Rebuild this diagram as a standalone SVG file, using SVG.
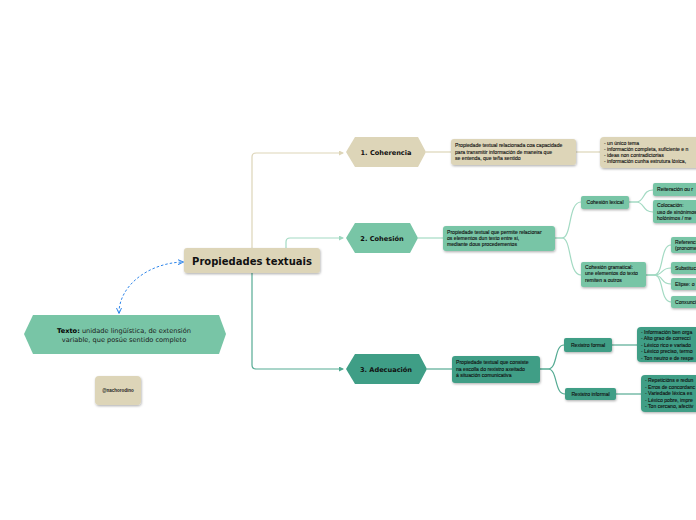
<svg xmlns="http://www.w3.org/2000/svg" width="696" height="520" viewBox="0 0 696 520">
<defs>
<filter id="sh" x="-20%" y="-30%" width="140%" height="170%"><feDropShadow dx="0.6" dy="1.2" stdDeviation="1" flood-color="#000" flood-opacity="0.3"/></filter>
<marker id="aB" markerWidth="5" markerHeight="5" refX="4" refY="2.5" orient="auto" markerUnits="userSpaceOnUse"><path d="M0,0 L5,2.5 L0,5 Z" fill="#ddd5b8"/></marker>
<marker id="aG" markerWidth="5" markerHeight="5" refX="4" refY="2.5" orient="auto" markerUnits="userSpaceOnUse"><path d="M0,0 L5,2.5 L0,5 Z" fill="#9fd8c0"/></marker>
<marker id="aT" markerWidth="5" markerHeight="5" refX="4" refY="2.5" orient="auto" markerUnits="userSpaceOnUse"><path d="M0,0 L5,2.5 L0,5 Z" fill="#4fa88f"/></marker>
<marker id="aD" markerWidth="6" markerHeight="6" refX="5" refY="3" orient="auto-start-reverse" markerUnits="userSpaceOnUse"><path d="M0,0.5 L5.5,3 L0,5.5" fill="none" stroke="#2f86ea" stroke-width="1"/></marker>
</defs>
<style>
.beige{fill:#ddd5b8}
.green{fill:#78c5a6}
.teal{fill:#3f9e86}
.lb{fill:none;stroke:#ddd5b8;stroke-width:1.2}
.lg{fill:none;stroke:#a3dac3;stroke-width:1.2}
.lt{fill:none;stroke:#55ab93;stroke-width:1.2}
.hex{font-family:"DejaVu Sans",sans-serif;font-weight:bold;font-size:6.6px;fill:#111;text-anchor:middle}
.sm{font-family:"Liberation Sans",Arial,sans-serif;font-size:5.1px;fill:#111;stroke:#111;stroke-width:0.12}
.smc{font-family:"Liberation Sans",Arial,sans-serif;font-size:5.1px;fill:#111;stroke:#111;stroke-width:0.12;text-anchor:middle}
</style>
<rect width="696" height="520" fill="#ffffff"/>
<g id="connectors">
<path class="lb" d="M252,248 V157 Q252,153 256,153 H343" marker-end="url(#aB)"/>
<path class="lg" d="M286,248 V242 Q286,238 290,238 H343" marker-end="url(#aG)"/>
<path class="lt" d="M252,273 V365 Q252,369 256,369 H343" marker-end="url(#aT)"/>
<path class="lb" d="M426,152 H451"/>
<path class="lb" d="M576,152 H600"/>
<path class="lg" d="M418,238 H443"/>
<path class="lg" d="M555,238 H562 C572,238 568,202 581,202"/>
<path class="lg" d="M555,238 H562 C572,238 568,275 581,275"/>
<path class="lg" d="M629,202 H636 C645,202 642,190 653,190"/>
<path class="lg" d="M629,202 H636 C645,202 642,212 653,212"/>
<path class="lg" d="M646,275 H654 C664,275 660,245 671,245"/>
<path class="lg" d="M646,275 H654 C664,275 660,268 671,268"/>
<path class="lg" d="M646,275 H654 C664,275 660,284 671,284"/>
<path class="lg" d="M646,275 H654 C664,275 660,302 671,302"/>
<path class="lt" d="M427,369 H452"/>
<path class="lt" d="M540,369 H548 C558,369 554,345 564,345"/>
<path class="lt" d="M540,369 H548 C558,369 554,394 565,394"/>
<path class="lt" d="M612,345 H637"/>
<path class="lt" d="M616,394 H641"/>
<path d="M119,313 C119,286 148,263 183,262" fill="none" stroke="#2f86ea" stroke-width="1" stroke-dasharray="2.5,2" marker-start="url(#aD)" marker-end="url(#aD)"/>
</g>
<g id="central">
<rect x="184" y="248" width="136" height="25" rx="3" class="beige" filter="url(#sh)"/>
<text x="252" y="264.5" font-family="DejaVu Sans,sans-serif" font-weight="bold" font-size="10" fill="#111" text-anchor="middle">Propiedades textuais</text>
</g>
<g id="coherencia">
<polygon points="346,152 355,137 418,137 426,152 418,167 355,167" class="beige"/>
<text x="386" y="154.5" class="hex">1. Coherencia</text>
</g>
<g id="coherencia-desc">
<rect x="451" y="139" width="125" height="26" rx="3" class="beige" filter="url(#sh)"/>
<text class="sm"><tspan x="455" y="147">Propiedade textual relacionada coa capacidade</tspan><tspan x="455" y="153.5">para transmitir información de maneira que</tspan><tspan x="455" y="160">se entenda, que teña sentido</tspan></text>
</g>
<g id="coherencia-list">
<rect x="600" y="137" width="110" height="31" rx="4" class="beige" filter="url(#sh)"/>
<text class="sm"><tspan x="604" y="145">- un único tema</tspan><tspan x="604" y="151">- información completa, suficiente e n</tspan><tspan x="604" y="157">- ideas non contradictorias</tspan><tspan x="604" y="163">- información cunha estrutura lóxica,</tspan></text>
</g>
<g id="cohesion">
<polygon points="346,238 355,223 410,223 418,238 410,253 355,253" class="green"/>
<text x="382" y="240.5" class="hex">2. Cohesión</text>
</g>
<g id="cohesion-desc">
<rect x="443" y="226" width="112" height="25" rx="3" class="green" filter="url(#sh)"/>
<text class="sm"><tspan x="447" y="234">Propiedade textual que permite relacionar</tspan><tspan x="447" y="240">os elementos dun texto entre si,</tspan><tspan x="447" y="246">mediante dous procedementos</tspan></text>
</g>
<g id="cohesion-lexical">
<rect x="581" y="196" width="48" height="13" rx="2" class="green" filter="url(#sh)"/>
<text x="605" y="204.3" class="smc">Cohesión lexical</text>
</g>
<g id="reiteracion">
<rect x="653" y="183" width="60" height="13" rx="2" class="green" filter="url(#sh)"/>
<text x="657" y="191.3" class="sm">Reiteración ou r</text>
</g>
<g id="colocacion">
<rect x="653" y="200" width="60" height="23" rx="2" class="green" filter="url(#sh)"/>
<text class="sm"><tspan x="657" y="207">Colocación:</tspan><tspan x="657" y="213.5">uso de sinónimos</tspan><tspan x="657" y="219.5">holónimos / me</tspan></text>
</g>
<g id="cohesion-gramatical">
<rect x="581" y="262" width="65" height="25" rx="2" class="green" filter="url(#sh)"/>
<text class="sm"><tspan x="585" y="268.5">Cohesión gramatical:</tspan><tspan x="585" y="275">une elementos do texto</tspan><tspan x="585" y="281.5">remiten a outros</tspan></text>
</g>
<g id="referencia">
<rect x="671" y="237" width="50" height="16" rx="2" class="green" filter="url(#sh)"/>
<text class="sm"><tspan x="675" y="243.5">Referencia</tspan><tspan x="675" y="249.5">(pronomes</tspan></text>
</g>
<g id="substitucion">
<rect x="671" y="262" width="50" height="12" rx="2" class="green" filter="url(#sh)"/>
<text x="675" y="269.8" class="sm">Substitución</text>
</g>
<g id="elipse">
<rect x="671" y="278" width="50" height="12" rx="2" class="green" filter="url(#sh)"/>
<text x="675" y="285.8" class="sm">Elipse: o</text>
</g>
<g id="conxuncion">
<rect x="671" y="296" width="50" height="12" rx="2" class="green" filter="url(#sh)"/>
<text x="675" y="303.8" class="sm">Conxunción</text>
</g>
<g id="adecuacion">
<polygon points="346,369 355,354 419,354 427,369 419,384 355,384" class="teal"/>
<text x="386" y="371.5" class="hex">3. Adecuación</text>
</g>
<g id="adecuacion-desc">
<rect x="452" y="356" width="88" height="27" rx="3" class="teal" filter="url(#sh)"/>
<text class="sm"><tspan x="456" y="364">Propiedade textual que consiste</tspan><tspan x="456" y="370.5">na escolla do rexistro axeitado</tspan><tspan x="456" y="377">á situación comunicativa</tspan></text>
</g>
<g id="rexistro-formal">
<rect x="564" y="338" width="48" height="14" rx="2" class="teal" filter="url(#sh)"/>
<text x="588" y="346.8" class="smc">Rexistro formal</text>
</g>
<g id="formal-list">
<rect x="637" y="327" width="80" height="35" rx="4" class="teal" filter="url(#sh)"/>
<text class="sm"><tspan x="641" y="333.5">- Información ben orga</tspan><tspan x="641" y="340">-  Alto grao de correcci</tspan><tspan x="641" y="346.5">- Léxico rico e variado</tspan><tspan x="641" y="353">- Léxico preciso, termo</tspan><tspan x="641" y="359.5">- Ton neutro e de respe</tspan></text>
</g>
<g id="rexistro-informal">
<rect x="565" y="388" width="51" height="12" rx="2" class="teal" filter="url(#sh)"/>
<text x="590.5" y="395.8" class="smc">Rexistro informal</text>
</g>
<g id="informal-list">
<rect x="641" y="375" width="80" height="37" rx="4" class="teal" filter="url(#sh)"/>
<text class="sm"><tspan x="645" y="382">- Repeticións e redun</tspan><tspan x="645" y="388.5">- Erros de concordanc</tspan><tspan x="645" y="395">- Variedade léxica es</tspan><tspan x="645" y="401.5">- Léxico pobre, impre</tspan><tspan x="645" y="408">- Ton cercano, afectiv</tspan></text>
</g>
<g id="texto">
<polygon points="24,334 33,315 219,315 226,334 219,354 33,354" class="green"/>
<text font-family="DejaVu Sans,sans-serif" font-size="6.6" fill="#1a1a1a" text-anchor="middle"><tspan x="124" y="332.5"><tspan font-weight="bold" fill="#000">Texto:</tspan> unidade lingüística, de extensión</tspan><tspan x="124" y="341.5">variable, que posúe sentido completo</tspan></text>
</g>
<g id="nachorodino">
<rect x="95" y="376" width="46" height="29" rx="4" class="beige" filter="url(#sh)"/>
<text x="118" y="391.5" font-family="Liberation Sans,Arial,sans-serif" font-weight="bold" font-size="4.5" fill="#222" text-anchor="middle">@nachorodino</text>
</g>
</svg>
